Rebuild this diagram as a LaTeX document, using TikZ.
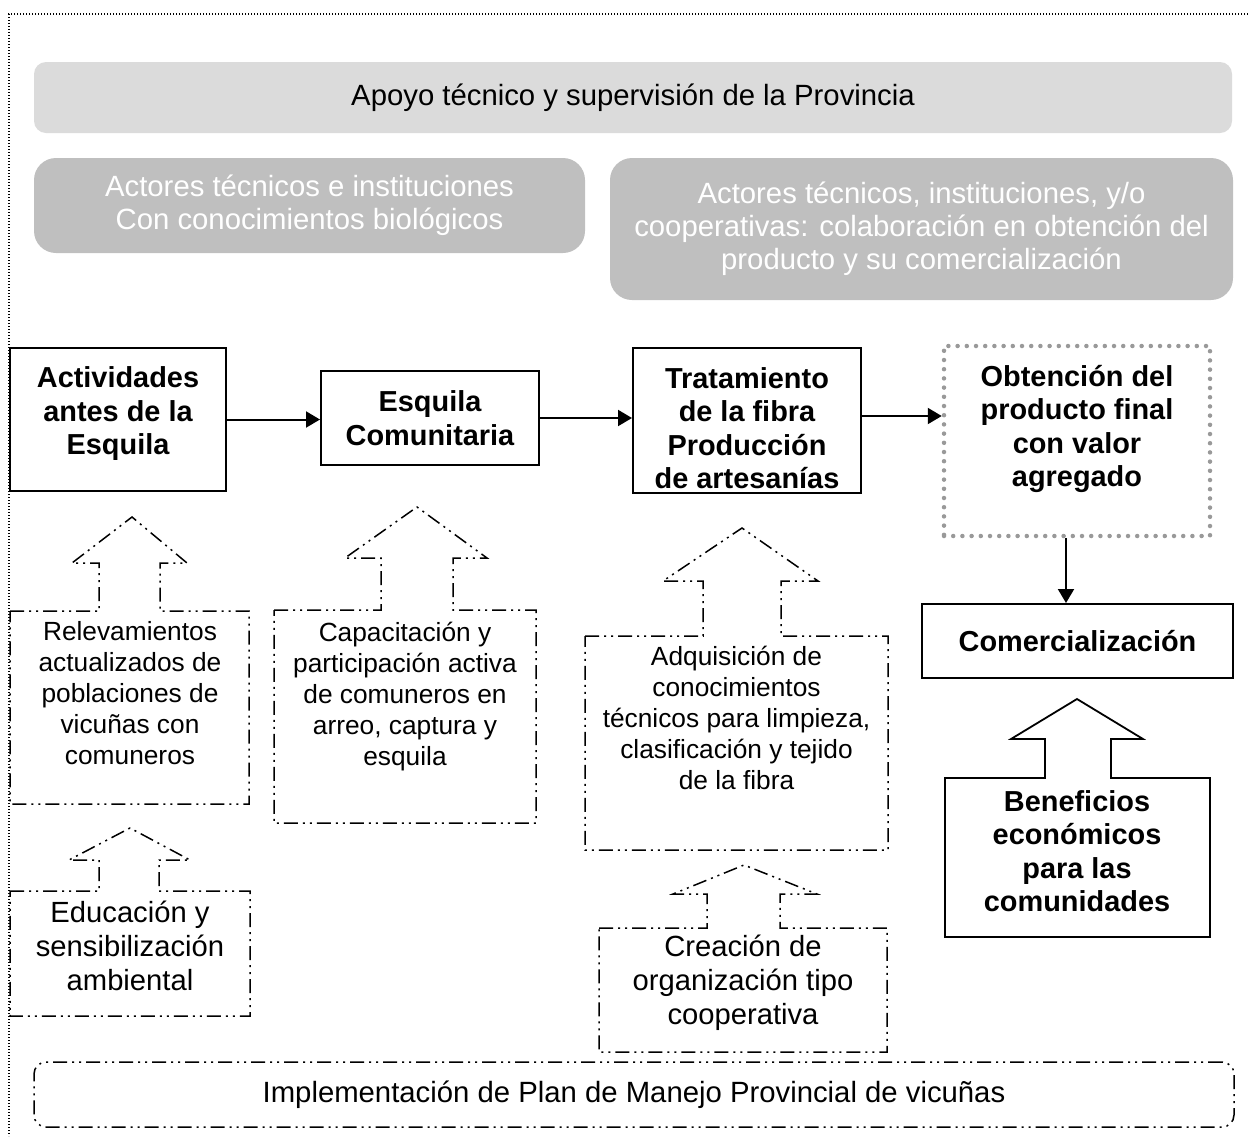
\documentclass[tikz,border=0pt]{standalone}
\usepackage{fontspec}
\setmainfont{Liberation Sans}
\usetikzlibrary{arrows.meta}

\tikzset{
  frame/.style={line width=1.2pt, dash pattern=on 1.2pt off 1.8pt},
  topbox/.style={fill=black!14, rounded corners=12pt, align=center, font=\fontsize{29.3}{33}\selectfont},
  actorbox/.style={fill=black!25, text=white, rounded corners=22pt, align=center, font=\fontsize{29.3}{33}\selectfont},
  mainbox/.style={draw, line width=2pt, align=center, font=\bfseries\fontsize{28.9}{33.5}\selectfont},
  dotbox/.style={draw=black!40, line width=4.5pt, line cap=round, dash pattern=on 0pt off 9.2pt},
  boldtxt/.style={align=center, font=\bfseries\fontsize{28.9}{33.5}\selectfont},
  normtxt/.style={align=center, font=\fontsize{26.3}{31}\selectfont},
  bigtxt/.style={align=center, font=\fontsize{29.2}{34}\selectfont},
  dashdot/.style={line width=1.5pt, dash pattern=on 14pt off 5pt on 2pt off 5pt on 2pt off 5pt},
  flow/.style={line width=2pt, -{Triangle[length=14pt,width=16pt]}},
}

\begin{document}
\begin{tikzpicture}[x=1pt, y=-1pt]
\useasboundingbox (0,0) rectangle (1248,1136);
\draw[frame] (1248,14) -| (9,1136);

%% actors on top
\node[topbox, minimum width=1198pt, minimum height=71pt] (apoyo) at (633,97.5) {Apoyo técnico y supervisión de la Provincia};
\node[actorbox, minimum width=551pt, minimum height=95pt] (bio) at (309.5,205.5) {Actores técnicos e instituciones\\Con conocimientos biológicos};
\node[actorbox, minimum width=623pt, minimum height=142pt] (coop) at (921.5,229) {Actores técnicos, instituciones, y/o\\cooperativas: colaboración en obtención del\\producto y su comercialización};

%% main chain
\node[mainbox, minimum width=216pt, minimum height=143pt] (act) at (118,419.5) {};
\node[boldtxt] (act-t) at (118,414) {Actividades\\antes de la\\Esquila};
\node[mainbox, minimum width=218pt, minimum height=94pt] (esq) at (430,418) {Esquila\\Comunitaria};
\node[mainbox, minimum width=228pt, minimum height=145pt] (trat) at (747,420.5) {};
\node[boldtxt] (trat-t) at (747,428) {Tratamiento\\de la fibra\\Producción\\de artesanías};
\node[dotbox, minimum width=266pt, minimum height=190pt] (obt) at (1077,441) {};
\node[boldtxt] (obt-t) at (1077,429) {Obtención del\\producto final\\con valor\\agregado};
\node[mainbox, minimum width=311pt, minimum height=74pt] (com) at (1077.5,641) {Comercialización};

\draw[flow] (act.east) -- (act.east -| esq.west);
\draw[flow] (esq.east) -- (esq.east -| trat.west);
\draw[flow] ([yshift=4.5pt]trat.east) -- ([yshift=4.5pt]trat.east -| obt.west);
\draw[flow] ([xshift=-11pt]obt.south) -- ([xshift=-11pt]obt.south |- com.north);

%% arrows from below
\draw[dashdot] (10,611) -- (99,611) -- (99,563) -- (72,563) -- (132,517) -- (187,563) -- (160,563) -- (160,611) -- (249,611) -- (249,804) -- (10,804) -- cycle;
\node[normtxt] (rel) at (130,693) {Relevamientos\\actualizados de\\poblaciones de\\vicuñas con\\comuneros};
\draw[dashdot] (10,891) -- (99,891) -- (99,860) -- (69,860) -- (130,828) -- (190,860) -- (159,860) -- (159,891) -- (250,891) -- (250,1016) -- (10,1016) -- cycle;
\node[bigtxt] (edu) at (130,946) {Educación y\\sensibilización\\ambiental};
\draw[dashdot] (274,610) -- (381,610) -- (381,558) -- (345,558) -- (417,507) -- (487,558) -- (453,558) -- (453,610) -- (536,610) -- (536,823) -- (274,823) -- cycle;
\node[normtxt] (cap) at (405,697) {Capacitación y\\participación activa\\de comuneros en\\arreo, captura y\\esquila};
\draw[dashdot] (585,636) -- (703,636) -- (703,581) -- (663,581) -- (742,528) -- (818,581) -- (781,581) -- (781,636) -- (888,636) -- (888,850) -- (585,850) -- cycle;
\node[normtxt] (adq) at (736.5,717.5) {Adquisición de\\conocimientos\\técnicos para limpieza,\\clasificación y tejido\\de la fibra};
\draw[dashdot] (599,928) -- (707,928) -- (707,894) -- (673,894) -- (744,865) -- (817,894) -- (780,894) -- (780,928) -- (887,928) -- (887,1052) -- (599,1052) -- cycle;
\node[bigtxt] (cre) at (743,983) {Creación de\\organización tipo\\cooperativa};

\draw[line width=1.8pt] (945,778) -- (1045,778) -- (1045,739) -- (1011,739) -- (1077,699) -- (1143,739) -- (1111,739) -- (1111,778) -- (1210,778) -- (1210,937) -- (945,937) -- cycle;
\node[boldtxt] (ben) at (1077,851) {Beneficios\\económicos\\para las\\comunidades};

%% base
\node[dashdot, draw, rounded corners=12pt, minimum width=1200pt, minimum height=65pt, font=\fontsize{29.3}{33}\selectfont] (plan) at (634,1094.5) {Implementación de Plan de Manejo Provincial de vicuñas};
\end{tikzpicture}
\end{document}
